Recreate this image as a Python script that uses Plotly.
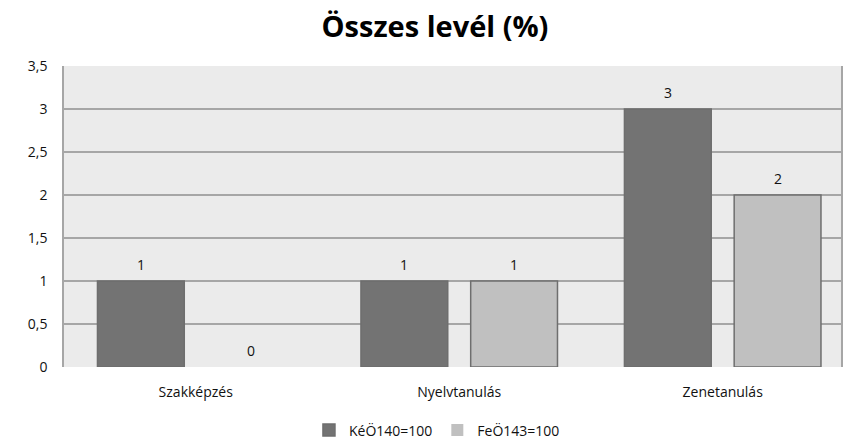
import plotly.graph_objects as go

# Chart data
categories = ["Szakképzés", "Nyelvtanulás", "Zenetanulás"]
series_names = ["KéÖ140=100", "FeÖ143=100"]
kep_values = [1, 1, 3]
feo_values = [0, 1, 2]
y_ticks = [0, 0.5, 1, 1.5, 2, 2.5, 3, 3.5]
y_tick_labels = ["0", "0,5", "1", "1,5", "2", "2,5", "3", "3,5"]

dark = "#737373"
light = "#C0C0C0"
edge = "#6E6E6E"
font_family = "Open Sans, Noto Sans, sans-serif"

fig = go.Figure()
for name, vals, color in [(series_names[0], kep_values, dark),
                          (series_names[1], feo_values, light)]:
    fig.add_trace(go.Bar(
        x=categories, y=vals, name=name,
        marker=dict(color=color,
                    line=dict(color=edge,
                              width=[1.5 if v > 0 else 0 for v in vals])),
    ))

# value labels above each bar
for vals, shift in [(kep_values, -55), (feo_values, 55)]:
    for cat, v in zip(categories, vals):
        fig.add_annotation(
            x=cat, y=v, xref="x", yref="y", text=str(v), showarrow=False,
            xshift=shift, yshift=17,
            font=dict(family=font_family, size=14, color="#111111"),
        )

fig.update_layout(
    width=843, height=447,
    margin=dict(l=64, r=0, t=66, b=78),
    paper_bgcolor="white",
    plot_bgcolor="#EBEBEB",
    barmode="group",
    bargap=0.167,
    bargroupgap=0.209,
    title=dict(
        text="<b>Összes levél (%)</b>",
        x=0.516, xanchor="center", y=0.94, yanchor="middle",
        font=dict(family=font_family, size=29, color="#000000"),
    ),
    font=dict(family=font_family, size=13, color="#111111"),
    showlegend=True,
    legend=dict(
        orientation="h", x=0.48, xanchor="center", y=-0.211, yanchor="middle",
        font=dict(size=14), itemwidth=30, traceorder="normal",
    ),
    xaxis=dict(
        range=[-0.5, 2.449],
        showgrid=False, zeroline=False,
        showline=False, ticks="outside", ticklen=12,
        tickcolor="rgba(0,0,0,0)",
        tickfont=dict(size=14),
    ),
    yaxis=dict(
        range=[0, 3.5],
        tickvals=y_ticks, ticktext=y_tick_labels,
        showgrid=True, gridcolor="#A6A6A6", gridwidth=1.5,
        zeroline=False,
        showline=True, linecolor="#A6A6A6", linewidth=1.5, mirror=True,
        ticks="outside", ticklen=12, tickcolor="rgba(0,0,0,0)",
        tickfont=dict(size=14),
    ),
)

fig.write_html("out.html")
